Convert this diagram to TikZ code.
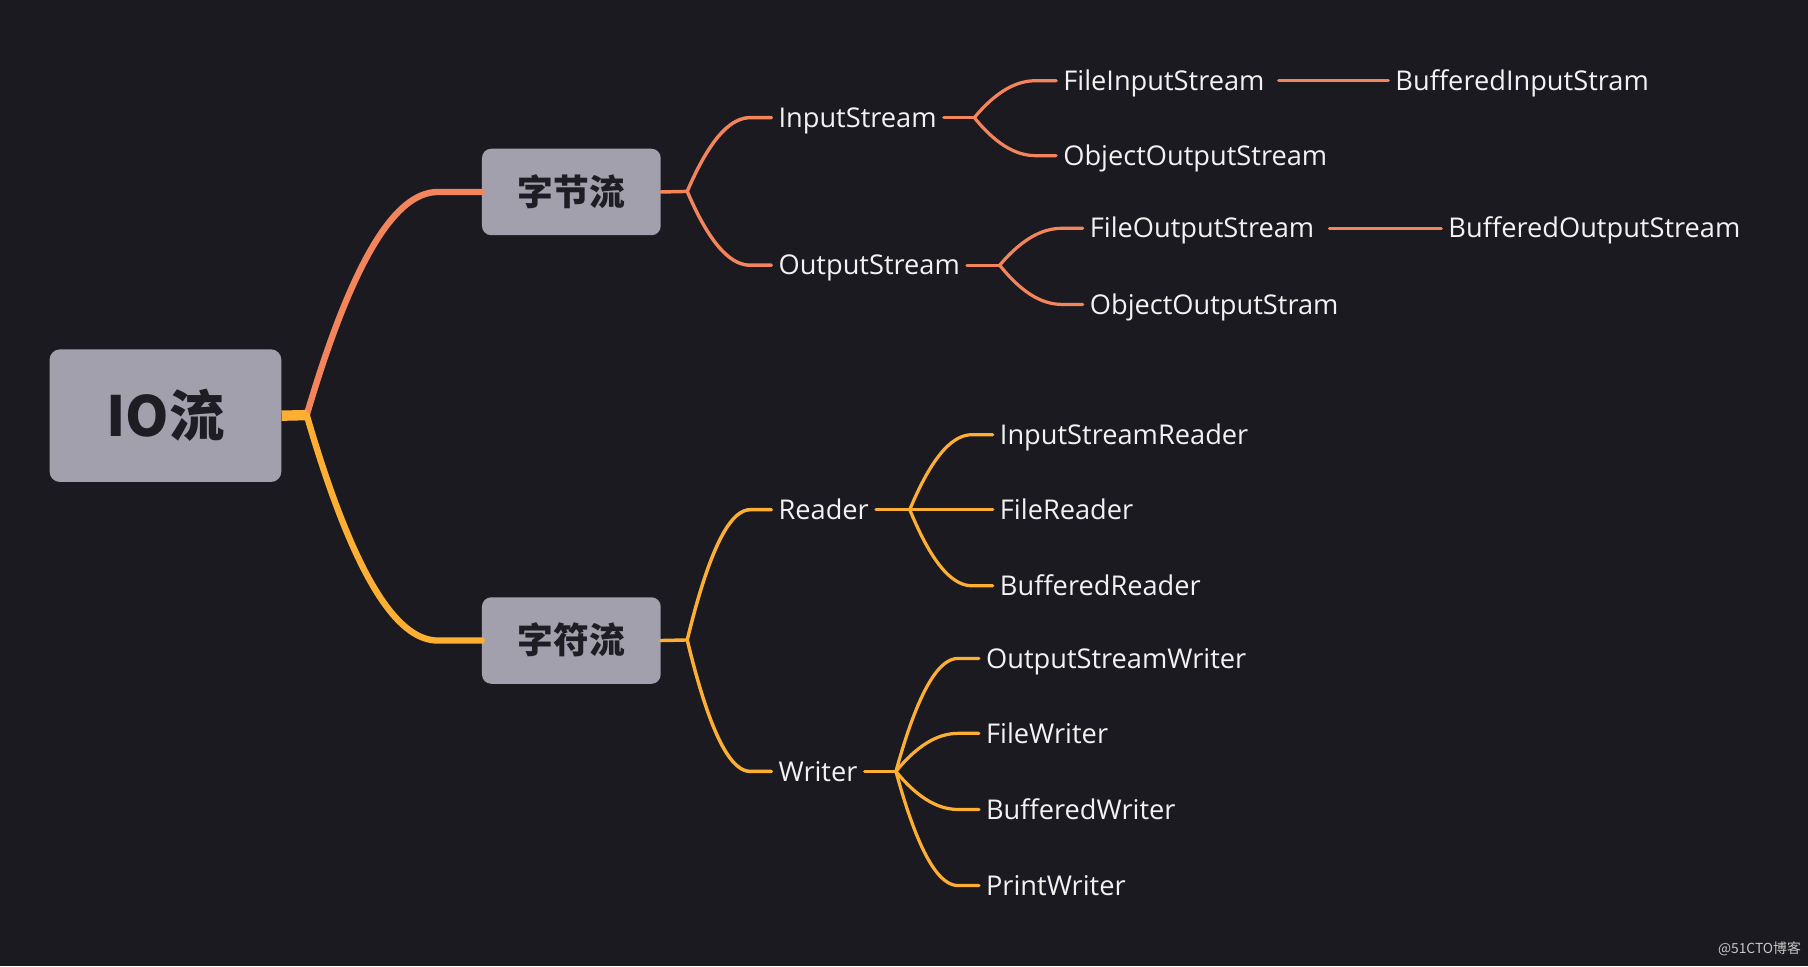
\documentclass[tikz,border=0pt]{standalone}
\usepackage{fontspec}
\setmainfont{Open Sans}
\newfontfamily\cjk{Noto Sans CJK SC}
\usetikzlibrary{positioning,calc}
\definecolor{bgcol}{HTML}{1B1A20}
\definecolor{boxcol}{HTML}{A2A0AC}
\definecolor{boxtext}{HTML}{1E1D24}
\definecolor{leafcol}{HTML}{F2F2F2}
\definecolor{hotcol}{HTML}{F4845C}
\definecolor{warmcol}{HTML}{FDAF34}
\begin{document}
\begin{tikzpicture}
  [
  x=1pt, y=-1pt, line cap=round,
  rootnode/.style={rectangle, rounded corners=9pt, fill=boxcol, text=boxtext, inner sep=0pt,
    minimum width=201pt, minimum height=115pt, text height=42pt, text depth=6pt,
    font=\cjk\bfseries\fontsize{48}{56}\selectfont},
  catnode/.style={rectangle, rounded corners=8pt, fill=boxcol, text=boxtext, inner sep=0pt,
    minimum width=155pt, minimum height=75pt, text height=27pt, text depth=4pt,
    font=\cjk\bfseries\fontsize{31}{37}\selectfont},
  leafnode/.style={anchor=west, inner xsep=6pt, inner ysep=0pt, text=leafcol,
    text height=16.8pt, text depth=0pt, font=\fontsize{23.6}{28}\selectfont},
  hot/.style={draw=hotcol}, warm/.style={draw=warmcol},
  branch/.style={to path={let \p1=(\tikztostart), \p2=(\tikztotarget) in
    .. controls ({\x1+0.3*(\x2-\x1)},{\y1+0.8*(\y2-\y1)}) and ({\x1+0.55*(\x2-\x1)},\y2)
    .. ({\x1+0.75*(\x2-\x1)},\y2) -- (\tikztotarget)}},
  ]

  \fill[bgcol] (0,0) rectangle (1568,838);
  \useasboundingbox (0,0) rectangle (1568,838);

  % boxes
  \node[rootnode] (io) at (143.5,360.5) {IO流};
  \node[catnode] (byte) at (495.5,166.5) {字节流};
  \node[catnode] (char) at (495.5,555.5) {字符流};

  % byte streams
  \node[leafnode] (is) at (669,102) {InputStream};
  \node[leafnode] (os) at (669,230) {OutputStream};
  \node[leafnode] (fis) at (916,70) {FileInputStream};
  \node[leafnode] (ois) at (916,135) {ObjectOutputStream};
  \node[leafnode] (bis) at (1204,70) {BufferedInputStram};
  \node[leafnode] (fos) at (939,198) {FileOutputStream};
  \node[leafnode] (oos) at (939,264) {ObjectOutputStram};
  \node[leafnode] (bos) at (1250,198) {BufferedOutputStream};

  % char streams
  \node[leafnode] (rd) at (669,442) {Reader};
  \node[leafnode] (wr) at (669,669) {Writer};
  \node[leafnode] (isr) at (861,377) {InputStreamReader};
  \node[leafnode] (fr) at (861,442) {FileReader};
  \node[leafnode] (br) at (861,508) {BufferedReader};
  \node[leafnode] (osw) at (849,571) {OutputStreamWriter};
  \node[leafnode] (fw) at (849,636) {FileWriter};
  \node[leafnode] (bw) at (849,702) {BufferedWriter};
  \node[leafnode] (pw) at (849,768) {PrintWriter};

  \node[anchor=east, inner sep=0pt, text=leafcol!80!bgcol, font=\cjk\fontsize{12}{14}\selectfont] (mark) at (1562,823) {@51CTO博客};

  % joints
  \coordinate (ioj) at (266,360);
  \coordinate (bytej) at (596,166);
  \coordinate (charj) at (596,555);
  \coordinate (isj) at (845,102);
  \coordinate (osj) at (867,230);
  \coordinate (rdj) at (789,442);
  \coordinate (wrj) at (777,669);

  % level 1
  \draw[hot, line width=5.5pt] (ioj) to[branch] (byte.west);
  \draw[warm, line width=5.5pt] (ioj) to[branch] (char.west);
  \draw[warm, line width=9pt, line cap=butt] (io.east) -- (ioj);

  % level 2
  \draw[hot, line width=3pt] (byte.east) -- (bytej);
  \draw[hot, line width=3pt] (bytej) to[branch] (is.west);
  \draw[hot, line width=3pt] (bytej) to[branch] (os.west);
  \draw[warm, line width=3pt] (char.east) -- (charj);
  \draw[warm, line width=3pt] (charj) to[branch] (rd.west);
  \draw[warm, line width=3pt] (charj) to[branch] (wr.west);

  % level 3
  \draw[hot, line width=2.8pt] (is.east) -- (isj);
  \draw[hot, line width=2.8pt] (isj) to[branch] (fis.west);
  \draw[hot, line width=2.8pt] (isj) to[branch] (ois.west);
  \draw[hot, line width=2.8pt] (os.east) -- (osj);
  \draw[hot, line width=2.8pt] (osj) to[branch] (fos.west);
  \draw[hot, line width=2.8pt] (osj) to[branch] (oos.west);
  \draw[hot, line width=2.8pt, shorten <=6pt] (fis.east) -- (bis.west);
  \draw[hot, line width=2.8pt, shorten <=7pt] (fos.east) -- (bos.west);

  \draw[warm, line width=2.8pt] (rd.east) -- (rdj);
  \draw[warm, line width=2.8pt] (rdj) to[branch] (isr.west);
  \draw[warm, line width=2.8pt] (rdj) -- (fr.west);
  \draw[warm, line width=2.8pt] (rdj) to[branch] (br.west);
  \draw[warm, line width=2.8pt] (wr.east) -- (wrj);
  \draw[warm, line width=2.8pt] (wrj) to[branch] (osw.west);
  \draw[warm, line width=2.8pt] (wrj) to[branch] (fw.west);
  \draw[warm, line width=2.8pt] (wrj) to[branch] (bw.west);
  \draw[warm, line width=2.8pt] (wrj) to[branch] (pw.west);
\end{tikzpicture}
\end{document}
